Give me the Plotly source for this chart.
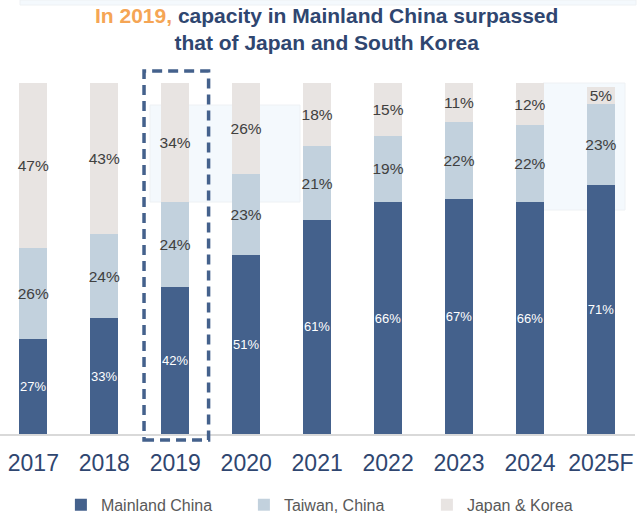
import plotly.graph_objects as go

years = ["2017", "2018", "2019", "2020", "2021", "2022", "2023", "2024", "2025F"]
mainland = [27, 33, 42, 51, 61, 66, 67, 66, 71]
taiwan = [26, 24, 24, 23, 21, 19, 22, 22, 23]
japan_korea = [47, 43, 34, 26, 18, 15, 11, 12, 5]
highlight_year = "2019"

FONT = "Liberation Sans, Arial, sans-serif"
C_MAIN = "#44618C"
C_TW = "#C2D1DD"
C_JK = "#E8E4E2"

PLOT_H = 351.0  # plot area height in px (for paper-coordinate conversions)

fig = go.Figure()
series = [
    ("Mainland China", mainland, C_MAIN, dict(color="white", size=13)),
    ("Taiwan, China", taiwan, C_TW, dict(color="#404040", size=15.5)),
    ("Japan & Korea", japan_korea, C_JK, dict(color="#404040", size=15.5)),
]
for name, vals, col, tf in series:
    fig.add_trace(go.Bar(
        name=name, x=years, y=vals, marker=dict(color=col, line=dict(width=0)),
        width=0.395, text=[f"{v}%" for v in vals], textposition="inside",
        insidetextanchor="middle", constraintext="none", textangle=0,
        textfont=dict(family=FONT, **tf), hoverinfo="x+y+name",
    ))

def py(px):
    """pixel row (from top of page) -> paper y"""
    return 1 - (px - 83) / PLOT_H

# faint decorative background panels
shapes = []
for x0, x1, y0, y1 in [(150, 300, 105, 202), (543, 625, 83, 210), (20, 636, 0, 5)]:
    shapes.append(dict(type="rect", xref="paper", yref="paper", layer="below",
                       x0=x0 / 635, x1=x1 / 635, y0=py(y1), y1=py(y0),
                       fillcolor="#F4F9FD", line=dict(color="#EEF1F4", width=1)))

idx = years.index(highlight_year)
shapes.append(dict(type="rect", xref="x", yref="paper", layer="above",
                   x0=idx - 0.44, x1=idx + 0.47, y0=py(440), y1=py(71),
                   line=dict(color=C_MAIN, width=3.5, dash="10px,6px"),
                   fillcolor="rgba(0,0,0,0)"))

fig.add_annotation(
    text="<b><span style='color:#F5A555'>In 2019,</span> capacity in Mainland China surpassed<br>that of Japan and South Korea</b>",
    font=dict(family=FONT, size=21, color="#2F4670"),
    xref="paper", yref="paper", x=327 / 635, xanchor="center",
    y=py(2), yanchor="top", showarrow=False, align="center",
)

fig.update_layout(
    width=641, height=513,
    margin=dict(l=0, r=6, t=83, b=79),
    paper_bgcolor="white", plot_bgcolor="rgba(0,0,0,0)",
    barmode="stack",
    font=dict(family=FONT),
    xaxis=dict(range=[-0.47, 8.48], showline=True, linecolor="#D9D9D9", linewidth=1.5,
               ticks="", showgrid=False, zeroline=False,
               tickfont=dict(family=FONT, size=23, color="#2F4670"),
               ticklabelstandoff=8),
    yaxis=dict(range=[0, 100], visible=False, showgrid=False, zeroline=False),
    legend=dict(orientation="h", xref="container", yref="container",
                x=0.095, xanchor="left", y=0.016, yanchor="middle",
                entrywidth=138, entrywidthmode="pixels",
                font=dict(family=FONT, size=16, color="#595959"),
                traceorder="normal", bgcolor="rgba(0,0,0,0)"),
    shapes=shapes,
    showlegend=True,
)

fig.write_html("out.html")
